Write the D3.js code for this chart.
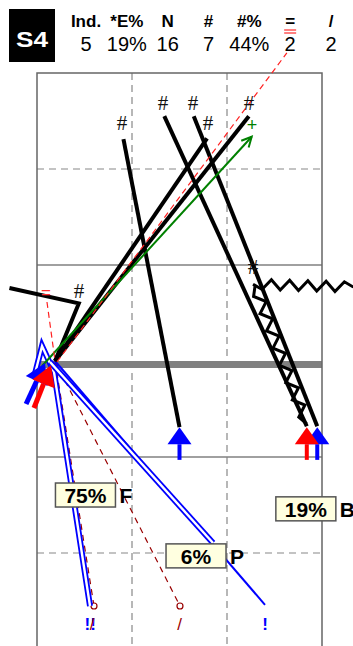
<!DOCTYPE html>
<html>
<head>
<meta charset="utf-8">
<script src="https://cdn.jsdelivr.net/npm/d3@7"></script>
<style>
  body { margin: 0; background: #fff; }
  svg { display: block; font-family: "Liberation Sans", Arial, sans-serif; }
</style>
</head>
<body>
<div id="chart"></div>
<script>
// --- Header ---
const panelName = "S4";
const statLabels = ["Ind.", "*E%", "N", "#", "#%", "=", "/"];
const statValues = ["5", "19%", "16", "7", "44%", "2", "2"];

// --- Grid (data units) ---
const solidRows = [1, -1];
const dashedRows = [2, -2];
const dashedCols = [1, 2];

const origin = [0.19, 0];

// black "#" strokes
const hashLines = [
    [[0.91, 2.31], [1.50, -0.69]],
    [[1.34, 2.55], [2.84, -0.68]],
    [[1.65, 2.55], [2.95, -0.68]],
    [origin, [1.79, 2.32]],
    [origin, [2.23, 2.55]],
    [[-0.29, 0.76], [0.44, 0.60], origin]
];
const hashMarks = [[0.895, 2.48], [1.326, 2.69], [1.642, 2.69], [1.80, 2.48], [2.232, 2.69], [0.442, 0.73], [2.274, 0.98]];

// zigzag strokes
const zigzagLines = [
    [[3.33, 0.77], [2.274, 0.80]],
    [[2.295, 0.78], [2.839, -0.656]]
];

// green arrow
const greenArrow = [[0.053, -0.052], [2.26, 2.336]];
const greenPlus = [2.263, 2.46];

// red dashed
const redDashed = [[[0.21, -0.01], [2.63, 3.21]], [[0.105, 0.615], origin]];
const redEq = [0.095, 0.72];

// dark red dashed
const darkRedLines = [[origin, [0.60, -2.552]], [origin, [1.505, -2.552]]];
const slashMarks = [[0.58, -2.74], [1.50, -2.74]];

// blue strokes
const blueDouble = [
    [[-0.03, -0.167], [0.053, 0.156], [0.179, -0.115], [0.558, -2.552]],
    [[0.137, -0.01], [1.853, -1.896]]
];
const blueSingle = [[origin, [2.40, -2.54]]];
const bangMarks = [[0.56, -2.74, "!!"], [2.40, -2.74, "!"]];

// arrows
const upArrows = [[1.50, "#0000ff"], [2.95, "#0000ff"], [2.84, "#ff0000"]];
const upTipY = -0.69, upTailY = -1.03;
const sideArrows = [
    [[-0.115, -0.448], [0.085, -0.02], "#0000ff"],
    [[-0.032, -0.49], [0.147, -0.045], "#ff0000"]
];

// percentage boxes
const pctBoxes = [
    [[0.51, -1.396], "75%", "F"],
    [[1.674, -2.03], "6%", "P"],
    [[2.83, -1.54], "19%", "B"]
];

// --- Setup ---
const width = 353, height = 646;
const svg = d3.select("#chart").append("svg")
    .attr("width", width)
    .attr("height", height);

const x = d3.scaleLinear().domain([0, 3]).range([37, 322]);
const y = d3.scaleLinear().domain([3, -3]).range([73, 649]);
const line = d3.line().x(d => x(d[0])).y(d => y(d[1]));

// Header
svg.append("rect").attr("x", 9).attr("y", 9).attr("width", 46).attr("height", 53).attr("fill", "#000");
svg.append("text").attr("x", 32).attr("y", 47).attr("text-anchor", "middle")
    .attr("fill", "#fff").attr("font-size", 22).attr("font-weight", "bold")
    .attr("textLength", 32).attr("lengthAdjust", "spacingAndGlyphs")
    .text(panelName);

const col = d3.scalePoint().domain(d3.range(statLabels.length)).range([86, 331]);
svg.selectAll(".lab").data(statLabels).join("text")
    .attr("x", (d, i) => col(i)).attr("y", 27)
    .attr("text-anchor", "middle").attr("font-size", 17).attr("font-weight", "bold")
    .text(d => d);
svg.selectAll(".val").data(statValues).join("text")
    .attr("x", (d, i) => col(i)).attr("y", 51)
    .attr("text-anchor", "middle").attr("font-size", 20)
    .text(d => d);
// red underline below "="
[30, 33].forEach(yy => svg.append("line")
    .attr("x1", col(5) - 6).attr("x2", col(5) + 6).attr("y1", yy).attr("y2", yy)
    .attr("stroke", "#ff0000").attr("stroke-width", 1));

// Grid
const g = svg.append("g");
g.selectAll(".dc").data(dashedCols).join("line")
    .attr("x1", d => x(d)).attr("x2", d => x(d)).attr("y1", y(3)).attr("y2", height)
    .attr("stroke", "#888").attr("stroke-width", 1.2).attr("stroke-dasharray", "7,5");
g.selectAll(".dr").data(dashedRows).join("line")
    .attr("x1", x(0)).attr("x2", x(3)).attr("y1", d => y(d)).attr("y2", d => y(d))
    .attr("stroke", "#888").attr("stroke-width", 1.2).attr("stroke-dasharray", "7,5");
g.selectAll(".sr").data(solidRows).join("line")
    .attr("x1", x(0)).attr("x2", x(3)).attr("y1", d => y(d)).attr("y2", d => y(d))
    .attr("stroke", "#808080").attr("stroke-width", 1.6);
g.append("rect").attr("x", x(0)).attr("y", y(0)).attr("width", x(3) - x(0)).attr("height", 7)
    .attr("fill", "#808080");
g.append("path")
    .attr("d", `M${x(0)},${height}V${y(3)}H${x(3)}V${height}`)
    .attr("fill", "none").attr("stroke", "#666").attr("stroke-width", 1.5);

// dark red dashed lines with circles
svg.selectAll(".dred").data(darkRedLines).join("path")
    .attr("d", line).attr("fill", "none")
    .attr("stroke", "#990000").attr("stroke-width", 1.2).attr("stroke-dasharray", "6,5");
svg.selectAll(".dcirc").data(darkRedLines).join("circle")
    .attr("cx", d => x(d[1][0])).attr("cy", d => y(d[1][1])).attr("r", 3)
    .attr("fill", "#fff").attr("stroke", "#990000").attr("stroke-width", 1.2);

// blue lines
svg.selectAll(".bsingle").data(blueSingle).join("path")
    .attr("d", line).attr("fill", "none").attr("stroke", "#0000ff").attr("stroke-width", 2);
const bd = svg.selectAll(".bdouble").data(blueDouble).join("g");
bd.append("path").attr("d", line).attr("fill", "none")
    .attr("stroke", "#0000ff").attr("stroke-width", 6).attr("stroke-linejoin", "miter");
bd.append("path").attr("d", line).attr("fill", "none")
    .attr("stroke", "#fff").attr("stroke-width", 2.4).attr("stroke-linejoin", "miter");

// black lines
svg.selectAll(".hash").data(hashLines).join("path")
    .attr("d", line).attr("fill", "none")
    .attr("stroke", "#000").attr("stroke-width", 4).attr("stroke-linejoin", "miter");

// zigzags
function zigzag(p) {
    const x0 = x(p[0][0]), y0 = y(p[0][1]), x1 = x(p[1][0]), y1 = y(p[1][1]);
    const len = Math.hypot(x1 - x0, y1 - y0);
    const n = Math.round(len / 9);
    const ux = (x1 - x0) / len, uy = (y1 - y0) / len;
    const pts = [[x0, y0]];
    for (let i = 1; i < n; i++) {
        const t = i / n, s = (i % 2 ? 1 : -1) * 5;
        pts.push([x0 + (x1 - x0) * t - uy * s, y0 + (y1 - y0) * t + ux * s]);
    }
    pts.push([x1, y1]);
    return d3.line()(pts);
}
svg.selectAll(".zig").data(zigzagLines).join("path")
    .attr("d", zigzag).attr("fill", "none")
    .attr("stroke", "#000").attr("stroke-width", 3);

// green arrow
function arrowHead(p, len, half) {
    const x0 = x(p[0][0]), y0 = y(p[0][1]), x1 = x(p[1][0]), y1 = y(p[1][1]);
    const l = Math.hypot(x1 - x0, y1 - y0), ux = (x1 - x0) / l, uy = (y1 - y0) / l;
    const bx = x1 - ux * len, by = y1 - uy * len;
    return [[bx - uy * half, by + ux * half], [x1, y1], [bx + uy * half, by - ux * half]];
}
svg.append("path").attr("d", line(greenArrow)).attr("fill", "none")
    .attr("stroke", "#008000").attr("stroke-width", 2);
svg.append("path").attr("d", d3.line()(arrowHead(greenArrow, 10, 5))).attr("fill", "none")
    .attr("stroke", "#008000").attr("stroke-width", 2);
svg.append("text").attr("x", x(greenPlus[0])).attr("y", y(greenPlus[1])).attr("dy", "0.35em")
    .attr("text-anchor", "middle").attr("fill", "#008000").attr("font-size", 18).text("+");

// red dashed
svg.selectAll(".rdash").data(redDashed).join("path")
    .attr("d", line).attr("fill", "none")
    .attr("stroke", "#ff2020").attr("stroke-width", 1.2).attr("stroke-dasharray", "6,4");
svg.append("text").attr("x", x(redEq[0])).attr("y", y(redEq[1])).attr("dy", "0.35em")
    .attr("text-anchor", "middle").attr("fill", "#ff3030").attr("font-size", 17).text("=");

// side arrows at origin
sideArrows.forEach(a => {
    const head = arrowHead(a, 20, 12);
    const base = [(head[0][0] + head[2][0]) / 2, (head[0][1] + head[2][1]) / 2];
    svg.append("line").attr("x1", x(a[0][0])).attr("y1", y(a[0][1]))
        .attr("x2", base[0]).attr("y2", base[1])
        .attr("stroke", a[2]).attr("stroke-width", 5);
    svg.append("path").attr("d", d3.line()(head) + "Z").attr("fill", a[2]);
});

// up arrows at bottom
upArrows.forEach(a => {
    const p = [[a[0], upTailY], [a[0], upTipY]];
    const head = arrowHead(p, 17, 12);
    svg.append("line").attr("x1", x(a[0])).attr("x2", x(a[0]))
        .attr("y1", y(upTailY)).attr("y2", head[0][1])
        .attr("stroke", a[1]).attr("stroke-width", 4);
    svg.append("path").attr("d", d3.line()(head) + "Z").attr("fill", a[1]);
});

// "#" labels
svg.selectAll(".hm").data(hashMarks).join("text")
    .attr("x", d => x(d[0])).attr("y", d => y(d[1])).attr("dy", "0.35em")
    .attr("text-anchor", "middle").attr("font-family", "Liberation Serif, serif")
    .attr("font-size", 21).attr("fill", "#111").text("#");

// bottom marks
svg.selectAll(".bang").data(bangMarks).join("text")
    .attr("x", d => x(d[0])).attr("y", d => y(d[1])).attr("dy", "0.35em")
    .attr("text-anchor", "middle").attr("font-size", 17).attr("font-weight", "bold")
    .attr("fill", "#0000ff").text(d => d[2]);
svg.selectAll(".slash").data(slashMarks).join("text")
    .attr("x", d => x(d[0])).attr("y", d => y(d[1])).attr("dy", "0.35em")
    .attr("text-anchor", "middle").attr("font-size", 17)
    .attr("fill", "#990000").text("/");

// percentage boxes
const bx = svg.selectAll(".pct").data(pctBoxes).join("g")
    .attr("transform", d => `translate(${x(d[0][0])},${y(d[0][1])})`);
bx.append("rect").attr("x", -30).attr("y", -12).attr("width", 60).attr("height", 24)
    .attr("fill", "#ffffe0").attr("stroke", "#555").attr("stroke-width", 1.5);
bx.append("text").attr("x", 0).attr("y", 8).attr("text-anchor", "middle")
    .attr("font-size", 21).attr("font-weight", "bold").text(d => d[1]);
bx.append("text").attr("x", 34).attr("y", 8)
    .attr("font-size", 21).attr("font-weight", "bold").text(d => d[2]);
</script>
</body>
</html>
